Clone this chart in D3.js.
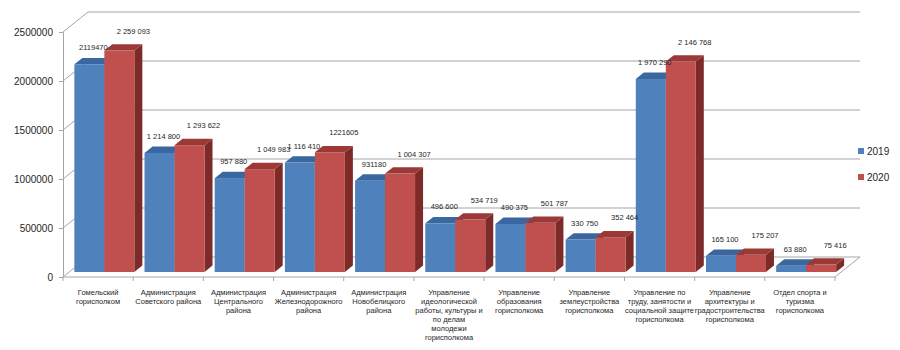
<!DOCTYPE html>
<html>
<head>
<meta charset="utf-8">
<script src="https://cdn.jsdelivr.net/npm/d3@7"></script>
<style>
  body { margin: 0; background: #fff; }
  svg { font-family: "Liberation Sans", Arial, sans-serif; }
</style>
</head>
<body>
<div id="chart"></div>
<script>
// data
var categories = [
  ["Гомельский", "горисполком"],
  ["Администрация", "Советского района"],
  ["Администрация", "Центрального", "района"],
  ["Администрация", "Железнодорожного", "района"],
  ["Администрация", "Новобелицкого", "района"],
  ["Управление", "идеологической", "работы, культуры и", "по делам", "молодежи", "горисполкома"],
  ["Управление", "образования", "горисполкома"],
  ["Управление", "землеустройства", "горисполкома"],
  ["Управление по", "труду, занятости и", "социальной защите", "горисполкома"],
  ["Управление", "архитектуры и", "градостроительства", "горисполкома"],
  ["Отдел спорта и", "туризма", "горисполкома"]
];
var values2019 = [2119470, 1214800, 957880, 1116410, 931180, 496600, 490375, 330750, 1970290, 165100, 63880];
var values2020 = [2259093, 1293622, 1049983, 1221605, 1004307, 534719, 501787, 352464, 2146768, 175207, 75416];
var labels2019 = ["2119470", "1 214 800", "957 880", "1 116 410", "931180", "496 600", "490 375", "330 750", "1 970 290", "165 100", "63 880"];
var labels2020 = ["2 259 093", "1 293 622", "1 049 983", "1221605", "1 004 307", "534 719", "501 787", "352 464", "2 146 768", "175 207", "75 416"];
var seriesNames = ["2019", "2020"];
var yTicks = [0, 500000, 1000000, 1500000, 2000000, 2500000];

var width = 900, height = 350;
var left = 63, right = 835, floorY = 277, topY = 32;
// depth of the 3d box (back wall offset)
var dX = 25, dY = -20;
var barDepth0 = 0.25, barDepth = 0.32;

var colors = {
  "2019": { front: "#4f81bd", top: "#3b67a0", side: "#2f5486" },
  "2020": { front: "#c0504d", top: "#9a3936", side: "#7c2b29" }
};

var svg = d3.select("#chart").append("svg")
  .attr("width", width)
  .attr("height", height);

var idx = d3.range(categories.length);

var x = d3.scaleBand().domain(idx).range([left, right]).padding(0);
var x1 = d3.scaleBand().domain(seriesNames).range([0, x.bandwidth()]).paddingInner(0).paddingOuter(0.17);
var y = d3.scaleLinear().domain([0, 2500000]).range([floorY, topY]);

// walls / gridlines
var grid = svg.append("g").attr("class", "grid");
yTicks.forEach(function(v) {
  grid.append("line")
    .attr("x1", left + dX).attr("x2", right + dX)
    .attr("y1", y(v) + dY).attr("y2", y(v) + dY)
    .style("stroke", "#a6a6a6").style("stroke-width", 1);
  grid.append("line")
    .attr("x1", left).attr("x2", left + dX)
    .attr("y1", y(v)).attr("y2", y(v) + dY)
    .style("stroke", "#a6a6a6").style("stroke-width", 1);
});
// floor edges
grid.append("line")
  .attr("x1", left).attr("x2", right).attr("y1", floorY).attr("y2", floorY)
  .style("stroke", "#a6a6a6");
grid.append("line")
  .attr("x1", right).attr("x2", right + dX).attr("y1", floorY).attr("y2", floorY + dY)
  .style("stroke", "#a6a6a6");

// category ticks on the floor edge
var bounds = idx.map(function(i) { return x(i); }).concat([x.range()[1]]);
grid.selectAll(".ctick").data(bounds).enter().append("line")
  .attr("class", "ctick")
  .attr("x1", function(d) { return d; }).attr("x2", function(d) { return d; })
  .attr("y1", floorY).attr("y2", floorY + 4)
  .style("stroke", "#a6a6a6");

// y axis
svg.append("g")
  .attr("class", "YAxis")
  .attr("transform", "translate(" + left + ",0)")
  .call(d3.axisLeft(y).tickValues(yTicks).tickFormat(d3.format("d")).tickSize(4).tickPadding(6))
  .call(function(g) {
    g.select(".domain").attr("stroke", "#a6a6a6");
    g.selectAll(".tick line").attr("stroke", "#a6a6a6");
    g.selectAll("text").style("font-size", "10px").style("fill", "#262626").style("font-family", "Liberation Sans, Arial, sans-serif");
  });

// project a point of the front face at a given depth fraction
function px(xf, d) { return xf + d * dX; }
function py(yf, d) { return yf + d * dY; }

function drawBar(g, xf, w, v, c) {
  var d0 = barDepth0, d1 = barDepth0 + barDepth;
  var yt = y(v), yb = y(0);
  var ox = barDepth * dX, oy = barDepth * dY;
  var fx = px(xf, d0), fyT = py(yt, d0), fyB = py(yb, d0);
  // side
  g.append("path")
    .attr("d", "M" + (fx + w) + "," + fyT + "L" + (fx + w + ox) + "," + (fyT + oy) +
      "L" + (fx + w + ox) + "," + (fyB + oy) + "L" + (fx + w) + "," + fyB + "Z")
    .attr("fill", c.side);
  // front
  g.append("rect")
    .attr("x", fx).attr("y", fyT)
    .attr("width", w).attr("height", fyB - fyT)
    .attr("fill", c.front);
  // top
  g.append("path")
    .attr("d", "M" + fx + "," + fyT + "L" + (fx + ox) + "," + (fyT + oy) +
      "L" + (fx + w + ox) + "," + (fyT + oy) + "L" + (fx + w) + "," + fyT + "Z")
    .attr("fill", c.top);
}

var bars = svg.append("g").attr("class", "bars");
idx.forEach(function(i) {
  var g = bars.append("g");
  drawBar(g, x(i) + x1("2019"), x1.bandwidth(), values2019[i], colors["2019"]);
  drawBar(g, x(i) + x1("2020"), x1.bandwidth(), values2020[i], colors["2020"]);
});

// value labels
var vl = svg.append("g").attr("class", "vlabels")
  .style("font-size", "7.5px").style("fill", "#262626").attr("text-anchor", "middle");
idx.forEach(function(i) {
  var xa = px(x(i) + x1("2019") + x1.bandwidth() / 2, barDepth0);
  var xb = px(x(i) + x1("2020") + x1.bandwidth() / 2, barDepth0);
  vl.append("text")
    .attr("x", xa + 4)
    .attr("y", py(y(values2019[i]), barDepth0) - 17 + 3)
    .text(labels2019[i]);
  vl.append("text")
    .attr("x", xb + 14)
    .attr("y", py(y(values2020[i]), barDepth0) - 20 + 3)
    .text(labels2020[i]);
});

// category labels
var cl = svg.append("g").attr("class", "clabels")
  .style("font-size", "7.5px").style("fill", "#262626").attr("text-anchor", "middle");
categories.forEach(function(lines, i) {
  var t = cl.append("text")
    .attr("x", x(i) + x.bandwidth() / 2)
    .attr("y", 295);
  lines.forEach(function(s, k) {
    t.append("tspan")
      .attr("x", x(i) + x.bandwidth() / 2)
      .attr("dy", k === 0 ? 0 : 8.9)
      .text(s);
  });
});

// legend
var legend = svg.append("g").attr("class", "legend");
seriesNames.forEach(function(s, k) {
  var ly = 151 + k * 26;
  legend.append("rect")
    .attr("x", 858).attr("y", ly - 3)
    .attr("width", 6).attr("height", 6)
    .attr("fill", colors[s].front);
  legend.append("text")
    .attr("x", 867).attr("y", ly + 3.5)
    .style("font-size", "10px").style("fill", "#262626")
    .text(s);
});
</script>
</body>
</html>
